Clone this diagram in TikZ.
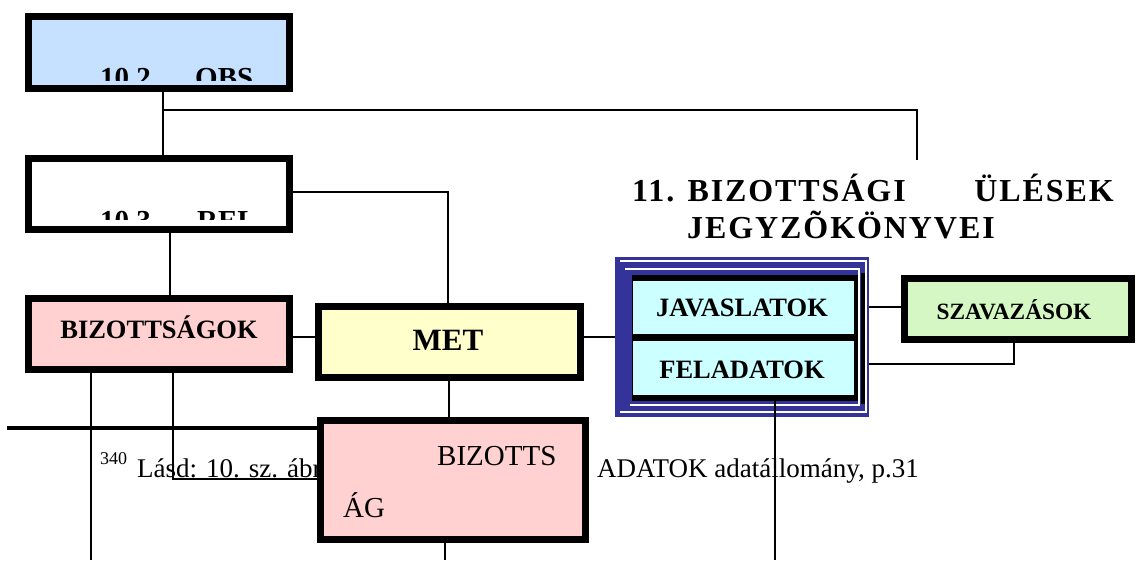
\documentclass[tikz,border=0pt]{standalone}
\usepackage{fontspec}
\setmainfont{Liberation Serif}
\newfontfamily\titlefont[LetterSpace=6]{Liberation Serif}
\usetikzlibrary{calc}

\definecolor{obsblue}{HTML}{C6E0FF}
\definecolor{pinkfill}{HTML}{FFD1D1}
\definecolor{metyellow}{HTML}{FFFFCC}
\definecolor{cellcyan}{HTML}{CCFFFF}
\definecolor{votegreen}{HTML}{D4F7C4}
\definecolor{frameblue}{HTML}{333399}

\begin{document}
\begin{tikzpicture}[x=1pt,y=-1pt,
  box/.style={draw=black, line width=7pt, inner sep=0pt},
  wire/.style={draw=black, line width=1.6pt},
  lbl/.style={anchor=base, inner sep=0pt, font=\bfseries\fontsize{26.5}{30}\selectfont},
  clipped/.style={anchor=base west, inner sep=0pt, font=\bfseries\fontsize{29}{34}\selectfont},
  foot/.style={anchor=base west, inner sep=0pt, font=\fontsize{27}{32}\selectfont},
  ttl/.style={anchor=base west, inner sep=0pt, font=\titlefont\bfseries\fontsize{32}{38}\selectfont},
]
\useasboundingbox (0,0) rectangle (1139,560);

% footnote line, partly hidden behind the BIZOTTSÁG box
\node[foot] (fnmark) at (100,464) {\fontsize{18}{20}\selectfont 340};
\node[foot] (fnleft) at (137,477) {Lásd: 10. sz. ábra};
\node[foot] (fnright) at (597,477) {ADATOK adatállomány, p.31};

% title above the minutes block
\node[ttl] (t1) at (632,201) {11. BIZOTTSÁGI};
\node[ttl, anchor=base east] (t2) at (1114,201) {ÜLÉSEK};
\node[ttl] (t3) at (687,238) {JEGYZÕKÖNYVEI};

% boxes
\node[box, fill=obsblue, minimum width=261pt, minimum height=72pt] (obs) at (159,52.5) {};
\node[box, fill=white, minimum width=261pt, minimum height=71pt] (rel) at (159,194) {};
\node[box, fill=pinkfill, minimum width=261pt, minimum height=71pt] (biz) at (159,334) {};
\node[box, fill=metyellow, minimum width=262pt, minimum height=71pt] (met) at (449.5,342) {};
\node[box, fill=pinkfill, minimum width=265pt, minimum height=119pt] (biz2) at (453,480) {};
\node[box, fill=votegreen, minimum width=227pt, minimum height=61pt] (sz) at (1018,309) {};

\node[lbl] (bizt) at (159,338) {BIZOTTSÁGOK};
\node[lbl, font=\bfseries\fontsize{31}{36}\selectfont] (mett) at (448,350) {MET};
\node[lbl, font=\bfseries\fontsize{23.3}{28}\selectfont] (szt) at (1014,319) {SZAVAZÁSOK};
\node[anchor=base west, inner sep=0pt, font=\fontsize{29}{34}\selectfont] (biz2a) at (437,465) {BIZOTTS};
\node[anchor=base west, inner sep=0pt, font=\fontsize{29}{34}\selectfont] (biz2b) at (343,517) {ÁG};

% clipped headings of the two upper boxes
\begin{scope}
  \clip (32,19) rectangle (287,80);
  \node[clipped] (obsnum) at (100,87) {10.2};
  \node[clipped] (obsname) at (195,87) {OBS};
\end{scope}
\begin{scope}
  \clip (32,161) rectangle (287,219);
  \node[clipped] (relnum) at (100,230) {10.3};
  \node[clipped] (relname) at (197,230) {REL};
\end{scope}

% stacked blue frame holding the two record cells
\node[fill=frameblue, inner sep=0pt, outer sep=0pt, minimum width=254pt, minimum height=160pt] (frame) at (742,337) {};
\draw[white, line width=2.4pt] (620,261) -- (866,261) -- (866,412) -- (620,412);
\draw[white, line width=1.6pt] (625,269) -- (859,269) -- (859,405) -- (630,405);
\fill[black] (632,275) rectangle (858,401);
\draw[black, line width=3.5pt] (863,273) -- (863,404);
\node[fill=cellcyan, inner sep=0pt, outer sep=0pt, minimum width=221pt, minimum height=53pt] (jav) at (743,307.5) {};
\node[fill=cellcyan, inner sep=0pt, outer sep=0pt, minimum width=221pt, minimum height=54pt] (fel) at (743,368) {};
\node[lbl] (javt) at (742,316) {JAVASLATOK};
\node[lbl] (felt) at (742,378) {FELADATOK};

% junction points of the connectors
\coordinate (jA) at (163,110);
\coordinate (jB) at (917,110);
\coordinate (jBend) at (917,160);
\coordinate (jC) at (448,192);
\coordinate (jD) at (170,0);
\coordinate (jE) at (0,337);
\coordinate (jF) at (449,0);
\coordinate (jG) at (0,307);
\coordinate (jH) at (1014,364);
\coordinate (jI) at (775,560);
\coordinate (jJ) at (91,560);
\coordinate (jK) at (173,479);
\coordinate (jL) at (445,560);
\coordinate (ruleL) at (7,428);

% connectors
\draw[wire] (obs.south -| jA) -- (rel.north -| jA);
\draw[wire] (jA) -- (jB) -- (jBend);
\draw[wire] (rel.east |- jC) -- (jC) -- (met.north -| jC);
\draw[wire] (rel.south -| jD) -- (biz.north -| jD);
\draw[wire] (biz.east |- jE) -- (met.west |- jE);
\draw[wire] (met.east |- jE) -- (frame.west |- jE);
\draw[wire] (met.south -| jF) -- (biz2.north -| jF);
\draw[wire] (frame.east |- jG) -- (sz.west |- jG);
\draw[wire] (frame.east |- jH) -- (jH) -- (sz.south -| jH);
\draw[wire] (fel.south -| jI) -- (jI);
\draw[wire] (biz.south -| jJ) -- (jJ);
\draw[wire] (biz.south -| jK) -- (jK) -- (biz2.west |- jK);
\draw[wire] (biz2.south -| jL) -- (jL);
\draw[black, line width=3.5pt] (ruleL) -- (biz2.west |- ruleL);
\end{tikzpicture}
\end{document}
